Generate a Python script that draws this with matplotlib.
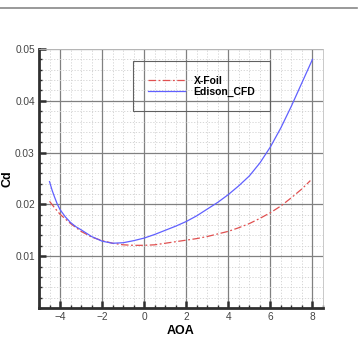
import matplotlib
matplotlib.use("Agg")
import matplotlib.pyplot as plt
from matplotlib.ticker import MultipleLocator, FixedLocator
from matplotlib.lines import Line2D

plt.rcParams['font.family'] = ['Liberation Sans', 'DejaVu Sans']

# Data
aoa_cfd = [-4.5, -4.375, -4.25, -4.125, -4.0, -3.75, -3.5, -3.25, -3.0, -2.5, -2.0, -1.5, -1.0, -0.5,
           0.0, 0.5, 1.0, 1.5, 2.0, 2.5, 3.0, 3.5, 4.0, 4.5, 5.0, 5.5, 6.0, 6.5, 7.0, 7.5, 8.0]
cd_cfd = [0.0244, 0.0227, 0.0213, 0.0200, 0.0190, 0.0176, 0.0165, 0.0157, 0.0151, 0.0138, 0.0129,
          0.0125, 0.0126, 0.0130, 0.0135, 0.0142, 0.0150, 0.0158, 0.0167, 0.0178, 0.0191, 0.0204,
          0.0219, 0.0236, 0.0255, 0.0280, 0.0311, 0.0348, 0.0390, 0.0435, 0.0480]

aoa_xfoil = [-4.5, -4.25, -4.0, -3.5, -3.0, -2.5, -2.0, -1.5, -1.0, -0.5, 0.0, 0.5, 1.0, 1.5, 2.0,
             2.5, 3.0, 3.5, 4.0, 4.5, 5.0, 5.5, 6.0, 6.5, 7.0, 7.5, 7.9]
cd_xfoil = [0.0206, 0.0193, 0.0181, 0.0163, 0.0148, 0.0137, 0.0130, 0.0125, 0.0122, 0.0121, 0.0121,
            0.0122, 0.0125, 0.0128, 0.0131, 0.0134, 0.0138, 0.0143, 0.0148, 0.0155, 0.0163, 0.0173,
            0.0184, 0.0197, 0.0213, 0.0230, 0.0246]

x_ticks = [-4, -2, 0, 2, 4, 6, 8]
y_ticks = [0.01, 0.02, 0.03, 0.04, 0.05]
y_tick_labels = ["0.01", "0.02", "0.03", "0.04", "0.05"]

fig = plt.figure(figsize=(3.58, 3.41), dpi=100)
fig.add_artist(Line2D([0.0, 0.997], [1 - 8/341, 1 - 8/341], color='#888888', lw=1.2))

ax = fig.add_axes([39/358, 1 - 308/341, (323 - 39)/358, (308 - 49)/341])
ax.set_xlim(-5, 8.5)
ax.set_ylim(0, 0.05)

ax.xaxis.set_major_locator(FixedLocator(x_ticks))
ax.xaxis.set_minor_locator(MultipleLocator(0.5))
ax.yaxis.set_major_locator(FixedLocator(y_ticks))
ax.yaxis.set_minor_locator(MultipleLocator(0.002))
ax.set_yticklabels(y_tick_labels)

ax.grid(which='major', color='#808080', lw=0.9, ls='-')
ax.grid(which='minor', color='#d0d0d0', lw=0.6, ls=(0, (1.5, 2)))
ax.set_axisbelow(True)

for s in ['top', 'right']:
    ax.spines[s].set_color('#c0c0c0')
    ax.spines[s].set_linewidth(0.6)
for s in ['left', 'bottom']:
    ax.spines[s].set_color('#303030')
    ax.spines[s].set_linewidth(2.0)

ax.tick_params(which='major', direction='in', length=5, width=1.8, color='#303030',
               labelsize=7.3, labelcolor='#444444', top=False, right=False, pad=3)
ax.tick_params(which='minor', direction='in', length=2.5, width=1.0, color='#303030',
               top=False, right=False)

ax.plot(aoa_xfoil, cd_xfoil, color='#e05050', lw=0.9, ls=(0, (6, 2, 1.5, 2)), label='X-Foil')
ax.plot(aoa_cfd, cd_cfd, color='#6060ff', lw=0.9, ls='-', label='Edison_CFD')

ax.set_xlabel('AOA', fontsize=9, fontweight='bold', labelpad=2)
ax.set_ylabel('Cd', fontsize=9, fontweight='bold', labelpad=1)

leg = ax.legend(loc='upper left', bbox_to_anchor=((133 - 39)/284, 1 - (61 - 49)/259),
                frameon=True, fancybox=False, framealpha=1, facecolor='none',
                edgecolor='#606060', prop={'weight': 'bold', 'size': 7.5},
                handlelength=3.6, handletextpad=0.8, borderpad=1.4, borderaxespad=0,
                labelspacing=0.1)
leg.get_frame().set_linewidth(0.8)
leg.get_frame().set_facecolor('none')

fig.savefig('out.png', dpi=100)
